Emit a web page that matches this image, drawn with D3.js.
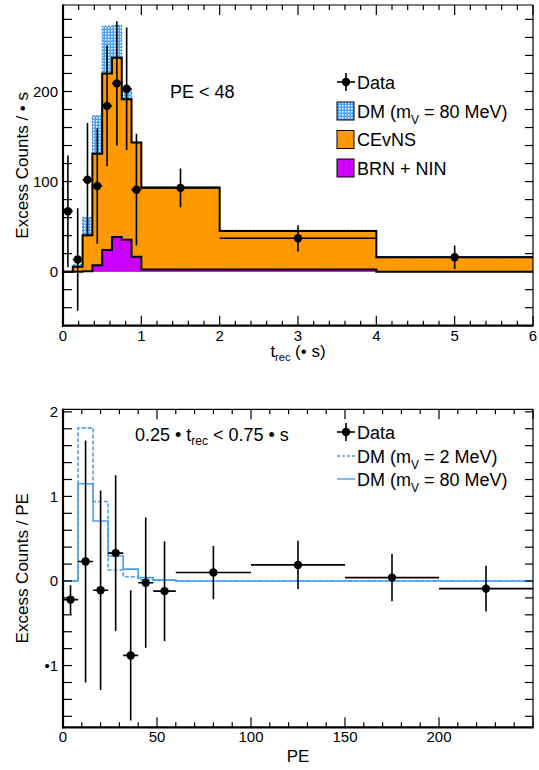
<!DOCTYPE html>
<html><head><meta charset="utf-8">
<script src="https://cdn.jsdelivr.net/npm/d3@7"></script>
<style>
body{margin:0;background:#fff}
text{font-family:"Liberation Sans",Arial,Helvetica,sans-serif;fill:#000}
</style>
</head><body>
<svg id="c" width="539" height="770" xmlns="http://www.w3.org/2000/svg"></svg>
<script>
// ---------- top panel data ----------
const tEdges = [0,0.125,0.25,0.375,0.5,0.625,0.75,0.875,1,2,4,6];
const brnNin = [0,0,0.5,7,24,38.5,35.5,16.5,2.5,2.5,0];
const cevns  = [0,5.5,40,124,196,199,156,127,90.8,42.5,16];
const dm80Stack = [0,2.5,19.5,42,52.5,35.8,11.1,0.3,0.7,1.0,0.5];
const tPts   = [0.0625,0.1875,0.3125,0.4375,0.5625,0.6875,0.8125,0.9375,1.5,3,5];
const tHalf  = [0.0625,0.0625,0.0625,0.0625,0.0625,0.0625,0.0625,0.0625,0.5,1,1];
const tCounts= [67,13.5,102,95,184,209,203,91,93,37,16];
const tErr   = [62,57,63,64,67,69,68,62,21.5,14.5,13];
const topYTicks = [0,100,200];
const topXTicks = [0,1,2,3,4,5,6];

// ---------- bottom panel data ----------
const peEdges = [0,8,16,24,32,40,48,60,250];
const dmMv2   = [0,1.81,0.94,0.13,0.05,0.015,0.01,0];
const dmMv80  = [0,1.15,0.71,0.295,0.14,0.04,0.01,0];
const pePts   = [4,12,20,28,36,44,54,80,125,175,225];
const peHalf  = [4,4,4,4,4,4,6,20,25,25,25];
const peCounts= [-0.22,0.23,-0.11,0.33,-0.88,-0.02,-0.12,0.10,0.19,0.04,-0.09];
const peErr   = [0.17,1.43,1.18,0.92,0.77,0.77,0.59,0.315,0.285,0.28,0.27];
const botYTicks = [2,1,0,-1];
const botYLabels = ["2","1","0","\u20221"];
const botXTicks = [0,50,100,150,200];

const svg = d3.select("#c");
svg.append("rect").attr("width",539).attr("height",770).attr("fill","#fff");

const defs = svg.append("defs");
const pat = defs.append("pattern").attr("id","dmPat").attr("patternUnits","userSpaceOnUse")
  .attr("width",3).attr("height",3);
pat.append("rect").attr("width",3).attr("height",3).attr("fill","#4aa2f3");
pat.append("rect").attr("x",0).attr("y",0).attr("width",1.5).attr("height",1.5).attr("fill","#ffffff");

const L = 63, R = 533;
const FONT = 15, TITLE = 17, LEG = 18;

function stepPoints(edges, vals, xs, ys){
  const p = [];
  vals.forEach((v,i)=>{ p.push([xs(edges[i]), ys(v)]); p.push([xs(edges[i+1]), ys(v)]); });
  return p;
}

function frame(g, x, y, xMajor, xMinorStep, yMinorStep, top, bottom){
  const [x0,x1] = x.domain(), [y0,y1] = y.domain();
  const yt = d3.range(Math.ceil(y0/yMinorStep)*yMinorStep, y1+1e-9, yMinorStep);
  yt.forEach(v=>{
    const yy = y(v);
    g.append("line").attr("x1",L).attr("x2",L+9).attr("y1",yy).attr("y2",yy).attr("stroke","#000").attr("stroke-width",1.2);
    g.append("line").attr("x1",R).attr("x2",R-8).attr("y1",yy).attr("y2",yy).attr("stroke","#000").attr("stroke-width",1.2);
  });
  const xt = d3.range(x0, x1+1e-9, xMinorStep);
  xt.forEach(v=>{
    const xx = x(v);
    const major = xMajor.some(m=>Math.abs(m-v)<1e-6);
    const len = major ? 10 : 5;
    g.append("line").attr("x1",xx).attr("x2",xx).attr("y1",bottom).attr("y2",bottom-len).attr("stroke","#000").attr("stroke-width",1.2);
    g.append("line").attr("x1",xx).attr("x2",xx).attr("y1",top).attr("y2",top+len).attr("stroke","#000").attr("stroke-width",1.2);
  });
  g.append("line").attr("x1",L).attr("x2",R).attr("y1",top).attr("y2",top).attr("stroke","#000").attr("stroke-width",1.2);
  g.append("line").attr("x1",R).attr("x2",R).attr("y1",top).attr("y2",bottom).attr("stroke","#000").attr("stroke-width",1.2);
  g.append("line").attr("x1",L).attr("x2",L).attr("y1",top-0.6).attr("y2",bottom+1).attr("stroke","#000").attr("stroke-width",2.2);
  g.append("line").attr("x1",L-1).attr("x2",R+0.6).attr("y1",bottom).attr("y2",bottom).attr("stroke","#000").attr("stroke-width",2.2);
}

function dataPoints(g, x, y, pts, half, vals, errs){
  pts.forEach((p,i)=>{
    g.append("line").attr("x1",x(p-half[i])).attr("x2",x(p+half[i])).attr("y1",y(vals[i])).attr("y2",y(vals[i]))
      .attr("stroke","#000").attr("stroke-width",1.6);
    g.append("line").attr("x1",x(p)).attr("x2",x(p)).attr("y1",y(vals[i]-errs[i])).attr("y2",y(vals[i]+errs[i]))
      .attr("stroke","#000").attr("stroke-width",1.6);
    g.append("circle").attr("cx",x(p)).attr("cy",y(vals[i])).attr("r",4.2).attr("fill","#000");
  });
}

// ================= TOP PANEL =================
const tTop = 5, tBot = 325.7;
const xT = d3.scaleLinear().domain([0,6]).range([L,R]);
const yT = d3.scaleLinear().domain([-60,296]).range([tBot,tTop]);
defs.append("clipPath").attr("id","clipT").append("rect").attr("x",L).attr("y",tTop).attr("width",R-L).attr("height",tBot-tTop);
const gT = svg.append("g");
const gTc = gT.append("g").attr("clip-path","url(#clipT)");

const orangeTot = cevns.map((v,i)=>v+brnNin[i]);
const dmTot = orangeTot.map((v,i)=>v+dm80Stack[i]);

const area0 = (ys)=>d3.area().x(d=>d[0]).y0(ys(0)).y1(d=>d[1]);
const lineGen = d3.line();

gTc.append("path").attr("d", area0(yT)(stepPoints(tEdges, dmTot, xT, yT))).attr("fill","url(#dmPat)");
gTc.append("path").attr("d", lineGen(stepPoints(tEdges, dmTot, xT, yT))).attr("fill","none")
  .attr("stroke","#3b7fd0").attr("stroke-width",1).attr("stroke-dasharray","2,1.5");
gTc.append("path").attr("d", area0(yT)(stepPoints(tEdges, orangeTot, xT, yT))).attr("fill","#ff9900");
{
  const p = stepPoints(tEdges, orangeTot, xT, yT);
  p.unshift([xT(tEdges[0]), yT(0)]);
  gTc.append("path").attr("d", lineGen(p)).attr("fill","none").attr("stroke","#000").attr("stroke-width",2);
}
gTc.append("path").attr("d", area0(yT)(stepPoints(tEdges, brnNin, xT, yT))).attr("fill","#cc00ff");
gTc.append("path").attr("d", lineGen(stepPoints(tEdges, brnNin, xT, yT))).attr("fill","none").attr("stroke","#000").attr("stroke-width",2);
dataPoints(gTc, xT, yT, tPts, tHalf, tCounts, tErr);

frame(gT, xT, yT, topXTicks, 0.2, 20, tTop, tBot);

topYTicks.forEach(v=>{
  gT.append("text").attr("x",L-5).attr("y",yT(v)).attr("dy","0.36em").attr("text-anchor","end")
    .attr("font-size",FONT).text(v);
});
topXTicks.forEach(v=>{
  gT.append("text").attr("x",xT(v)).attr("y",tBot+15).attr("text-anchor","middle")
    .attr("font-size",FONT).text(v);
});
{
  const t = gT.append("text").attr("x",(L+R)/2).attr("y",357).attr("text-anchor","middle").attr("font-size",TITLE);
  t.append("tspan").text("t");
  t.append("tspan").attr("font-size",11).attr("dy",4).text("rec");
  t.append("tspan").attr("dy",-4).text(" (\u2022 s)");
}
gT.append("text").attr("transform",`translate(28,${(tTop+tBot)/2}) rotate(-90)`).attr("text-anchor","middle")
  .attr("font-size",TITLE).text("Excess Counts / \u2022 s");
gT.append("text").attr("x",170).attr("y",98).attr("font-size",LEG).text("PE < 48");

function legendData(g, cx, cy){
  g.append("line").attr("x1",cx-9).attr("x2",cx+9).attr("y1",cy).attr("y2",cy).attr("stroke","#000").attr("stroke-width",1.6);
  g.append("line").attr("x1",cx).attr("x2",cx).attr("y1",cy-9).attr("y2",cy+9).attr("stroke","#000").attr("stroke-width",1.6);
  g.append("circle").attr("cx",cx).attr("cy",cy).attr("r",4.2).attr("fill","#000");
}
function mvText(g, x, y, mass){
  const t = g.append("text").attr("x",x).attr("y",y).attr("font-size",LEG);
  t.append("tspan").text("DM (m");
  t.append("tspan").attr("font-size",12).attr("dy",6).text("V");
  t.append("tspan").attr("dy",-6).text(" = " + mass + " MeV)");
}
const legRows = [82, 111, 139.5, 168];
legendData(gT, 346, legRows[0]);
gT.append("text").attr("x",357).attr("y",legRows[0]+6.5).attr("font-size",LEG).text("Data");
gT.append("rect").attr("x",337).attr("y",legRows[1]-9).attr("width",17).attr("height",18).attr("fill","url(#dmPat)").attr("stroke","#000").attr("stroke-width",1);
mvText(gT, 357, legRows[1]+6.5, 80);
gT.append("rect").attr("x",337).attr("y",legRows[2]-9).attr("width",17).attr("height",18).attr("fill","#ff9900").attr("stroke","#000").attr("stroke-width",1);
gT.append("text").attr("x",357).attr("y",legRows[2]+6.5).attr("font-size",LEG).text("CEvNS");
gT.append("rect").attr("x",337).attr("y",legRows[3]-9).attr("width",17).attr("height",18).attr("fill","#cc00ff").attr("stroke","#000").attr("stroke-width",1);
gT.append("text").attr("x",357).attr("y",legRows[3]+6.5).attr("font-size",LEG).text("BRN + NIN");

// ================= BOTTOM PANEL =================
const bTop = 409.3, bBot = 727.3;
const xB = d3.scaleLinear().domain([0,250]).range([L,R]);
const yB = d3.scaleLinear().domain([-1.73,2.03]).range([bBot,bTop]);
defs.append("clipPath").attr("id","clipB").append("rect").attr("x",L).attr("y",bTop).attr("width",R-L).attr("height",bBot-bTop);
const gB = svg.append("g");
const gBc = gB.append("g").attr("clip-path","url(#clipB)");

function dmLine(vals, dash){
  const p = stepPoints(peEdges, vals, xB, yB);
  p.unshift([xB(peEdges[0]), yB(yB.domain()[0])]);
  gBc.append("path").attr("d", lineGen(p)).attr("fill","none").attr("stroke","#4aa0f0")
    .attr("stroke-width",1.6).attr("stroke-dasharray", dash);
}
dmLine(dmMv2, "4,2");
dmLine(dmMv80, null);
dataPoints(gBc, xB, yB, pePts, peHalf, peCounts, peErr);

frame(gB, xB, yB, [0,50,100,150,200,250], 10, 0.2, bTop, bBot);

botYTicks.forEach((v,i)=>{
  gB.append("text").attr("x",L-5).attr("y",yB(v)).attr("dy","0.36em").attr("text-anchor","end")
    .attr("font-size",FONT).text(botYLabels[i]);
});
botXTicks.forEach(v=>{
  gB.append("text").attr("x",xB(v)).attr("y",bBot+15).attr("text-anchor","middle")
    .attr("font-size",FONT).text(v);
});
gB.append("text").attr("x",(L+R)/2).attr("y",762).attr("text-anchor","middle").attr("font-size",TITLE).text("PE");
gB.append("text").attr("transform",`translate(28,${(bTop+bBot)/2}) rotate(-90)`).attr("text-anchor","middle")
  .attr("font-size",TITLE).text("Excess Counts / PE");
{
  const t = gB.append("text").attr("x",135).attr("y",441).attr("font-size",LEG);
  t.append("tspan").text("0.25 \u2022 t");
  t.append("tspan").attr("font-size",12).attr("dy",4).text("rec");
  t.append("tspan").attr("dy",-4).text(" < 0.75 \u2022 s");
}
const bLeg = [432, 456, 479];
legendData(gB, 346, bLeg[0]);
gB.append("text").attr("x",357).attr("y",bLeg[0]+6.5).attr("font-size",LEG).text("Data");
gB.append("line").attr("x1",337).attr("x2",355).attr("y1",bLeg[1]).attr("y2",bLeg[1]).attr("stroke","#4aa0f0").attr("stroke-width",1.4).attr("stroke-dasharray","3,2");
mvText(gB, 357, bLeg[1]+6.5, 2);
gB.append("line").attr("x1",337).attr("x2",355).attr("y1",bLeg[2]).attr("y2",bLeg[2]).attr("stroke","#4aa0f0").attr("stroke-width",1.4);
mvText(gB, 357, bLeg[2]+6.5, 80);
</script>
</body></html>
